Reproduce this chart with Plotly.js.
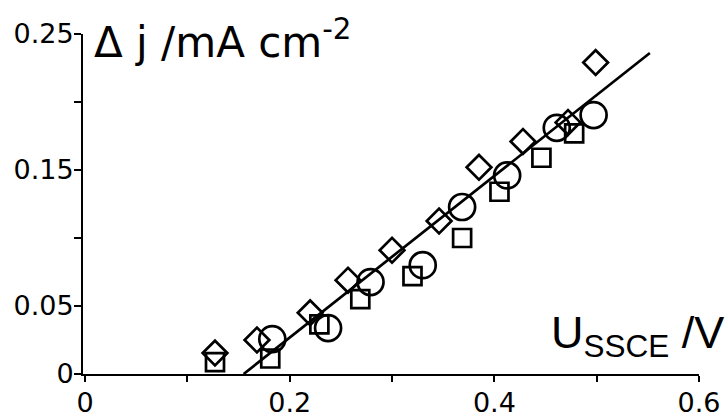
<!DOCTYPE html>
<html>
<head>
<meta charset="utf-8">
<script src="https://cdn.plot.ly/plotly-3.0.1.min.js"></script>
<style>
  html, body { margin: 0; padding: 0; background: #fff; }
  #chart { width: 728px; height: 415px; }
</style>
</head>
<body>
<div id="chart"></div>
<script>
// Series (potential in V, current density change in mA cm^-2)
const diamondX = [0.127, 0.168, 0.220, 0.257, 0.300, 0.346, 0.385, 0.428, 0.472, 0.499];
const diamondY = [0.0154, 0.025, 0.045, 0.069, 0.091, 0.1125, 0.152, 0.171, 0.185, 0.229];

const circleX = [0.183, 0.2375, 0.279, 0.330, 0.3685, 0.4125, 0.461, 0.497];
const circleY = [0.0257, 0.0338, 0.0676, 0.080, 0.1228, 0.146, 0.181, 0.1904];

const squareX = [0.127, 0.181, 0.229, 0.269, 0.320, 0.3685, 0.405, 0.446, 0.478];
const squareY = [0.0088, 0.0114, 0.0365, 0.055, 0.072, 0.100, 0.134, 0.159, 0.177];

// Linear fit line end points
const fitX = [0.155, 0.552];
const fitY = [0.0, 0.236];

// Tick labels (labelled ticks; unlabelled ticks are minor ticks)
const xTickVals = [0, 0.2, 0.4, 0.6];
const xTickText = ['0', '0.2', '0.4', '0.6'];
const yTickVals = [0, 0.05, 0.15, 0.25];
const yTickText = ['0', '0.05', '0.15', '0.25'];

const yTitle = 'Δ j /mA cm<sup>-2</sup>';
const xTitle = 'U<sub>SSCE</sub> /V';

const markerLine = { color: '#000', width: 2.7 };

const traces = [
  {
    x: fitX, y: fitY, type: 'scatter', mode: 'lines',
    line: { color: '#000', width: 2.7 }, cliponaxis: false, hoverinfo: 'skip'
  },
  {
    x: squareX, y: squareY, type: 'scatter', mode: 'markers', cliponaxis: false,
    marker: { symbol: 'square-open', size: 18, color: '#000', line: markerLine }
  },
  {
    x: circleX, y: circleY, type: 'scatter', mode: 'markers', cliponaxis: false,
    marker: { symbol: 'circle-open', size: 26, color: '#000', line: markerLine }
  },
  {
    x: diamondX, y: diamondY, type: 'scatter', mode: 'markers', cliponaxis: false,
    marker: { symbol: 'diamond-open', size: 19, color: '#000', line: markerLine }
  }
];

const tickFont = { family: 'DejaVu Sans, sans-serif', size: 27, color: '#000' };

const layout = {
  width: 728, height: 415,
  margin: { l: 83, r: 29, t: 34, b: 41, pad: 0 },
  paper_bgcolor: '#fff', plot_bgcolor: '#fff',
  showlegend: false,
  xaxis: {
    range: [-0.002, 0.6],
    showline: true, linecolor: '#000', linewidth: 2,
    ticks: 'outside', ticklen: 6, tickwidth: 2, tickcolor: '#000',
    tickmode: 'array', tickvals: xTickVals, ticktext: xTickText,
    minor: { tick0: 0, dtick: 0.1, ticks: 'outside', ticklen: 6, tickwidth: 2, tickcolor: '#000', showgrid: false },
    ticklabelstandoff: -2,
    showgrid: false, zeroline: false, tickfont: tickFont
  },
  yaxis: {
    range: [0, 0.25],
    showline: true, linecolor: '#000', linewidth: 2,
    ticks: 'outside', ticklen: 7, tickwidth: 2, tickcolor: '#000',
    tickmode: 'array', tickvals: yTickVals, ticktext: yTickText,
    minor: { tick0: 0, dtick: 0.05, ticks: 'outside', ticklen: 7, tickwidth: 2, tickcolor: '#000', showgrid: false },
    ticklabelstandoff: -5,
    showgrid: false, zeroline: false, tickfont: tickFont
  },
  annotations: [
    {
      text: yTitle, xref: 'paper', yref: 'paper',
      x: 0.014, y: 0.985, xanchor: 'left', yanchor: 'middle', showarrow: false,
      font: { family: 'DejaVu Sans, sans-serif', size: 42, color: '#000' }
    },
    {
      text: xTitle, xref: 'paper', yref: 'paper',
      x: 1.0438, y: 0.114, xanchor: 'right', yanchor: 'middle', showarrow: false,
      font: { family: 'Liberation Sans, Arial, sans-serif', size: 45, color: '#000' }
    }
  ]
};

Plotly.newPlot('chart', traces, layout, { staticPlot: true, displayModeBar: false });
</script>
</body>
</html>
